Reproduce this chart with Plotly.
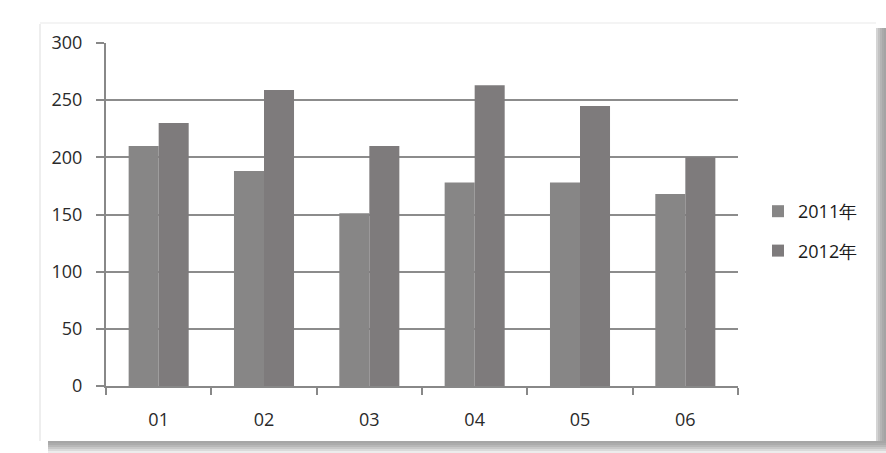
import plotly.graph_objects as go

categories = ["01", "02", "03", "04", "05", "06"]
series_2011 = [210, 188, 151, 178, 178, 168]
series_2012 = [230, 259, 210, 263, 245, 200]
series_names = ["2011年", "2012年"]
y_ticks = [0, 50, 100, 150, 200, 250, 300]

W, H = 886, 453
L, R, T, B = 106, 738, 43, 386

def px(x):
    return (x - L) / (R - L)

def py(y):
    return (B - y) / (B - T)

fig = go.Figure()
fig.add_trace(go.Bar(x=categories, y=series_2011, name=series_names[0],
                     marker=dict(color="#878686", line=dict(width=0)), legendgroup="a"))
fig.add_trace(go.Bar(x=categories, y=series_2012, name=series_names[1],
                     marker=dict(color="#7e7b7c", line=dict(width=0)), legendgroup="b"))

shapes = []
# right shadow
for i, c in enumerate(["#d4d4d4", "#c2c2c2", "#b4b4b4", "#aaaaaa", "#a4a4a4"]):
    x0 = 876 + i * 2
    shapes.append(dict(type="rect", xref="paper", yref="paper", layer="below",
                       x0=px(x0), x1=px(x0 + 2), y0=py(453), y1=py(28),
                       fillcolor=c, line=dict(width=0)))
# bottom shadow
for i, c in enumerate(["#a6a6a6", "#acacac", "#b8b8b8", "#c8c8c8", "#dadada", "#ececec"]):
    y0 = 441 + i * 2
    shapes.append(dict(type="rect", xref="paper", yref="paper", layer="below",
                       x0=px(48), x1=px(886), y0=py(y0 + 2), y1=py(y0),
                       fillcolor=c, line=dict(width=0)))
# faint frame edges
shapes.append(dict(type="line", xref="paper", yref="paper", layer="below",
                   x0=px(40), x1=px(40), y0=py(441), y1=py(24),
                   line=dict(color="#eeeeee", width=2)))
shapes.append(dict(type="line", xref="paper", yref="paper", layer="below",
                   x0=px(40), x1=px(876), y0=py(23), y1=py(23),
                   line=dict(color="#f4f4f4", width=2)))

fig.update_layout(
    width=W, height=H,
    margin=dict(l=L, r=W - R, t=T, b=H - B, pad=0),
    paper_bgcolor="white", plot_bgcolor="white",
    barmode="group", bargap=0.43, bargroupgap=0,
    font=dict(family="Open Sans", size=18, color="#2a2a2a"),
    showlegend=True,
    legend=dict(x=px(758), y=py(231), xanchor="left", yanchor="middle",
                traceorder="grouped", tracegroupgap=13,
                font=dict(size=18, color="#1a1a1a"), itemwidth=30,
                bgcolor="rgba(0,0,0,0)"),
    shapes=shapes,
)
fig.update_xaxes(
    type="category", showline=True, linecolor="#888888", linewidth=2,
    ticks="outside", tickson="boundaries", ticklen=7, tickwidth=2, tickcolor="#888888",
    showgrid=False, tickfont=dict(size=18, color="#2a2a2a"), ticklabelstandoff=16,
)
fig.update_yaxes(
    range=[0, 300], tickvals=y_ticks, showline=True, linecolor="#888888", linewidth=2,
    ticks="outside", ticklen=8, tickwidth=2, tickcolor="#888888",
    showgrid=True, gridcolor="#8c8c8c", gridwidth=1.5, zeroline=False,
    tickfont=dict(size=18, color="#2a2a2a"), ticklabelstandoff=10,
)

fig.write_html("out.html", config={"displayModeBar": False},
               post_script="document.body.style.margin='0';document.body.style.overflow='hidden';")
